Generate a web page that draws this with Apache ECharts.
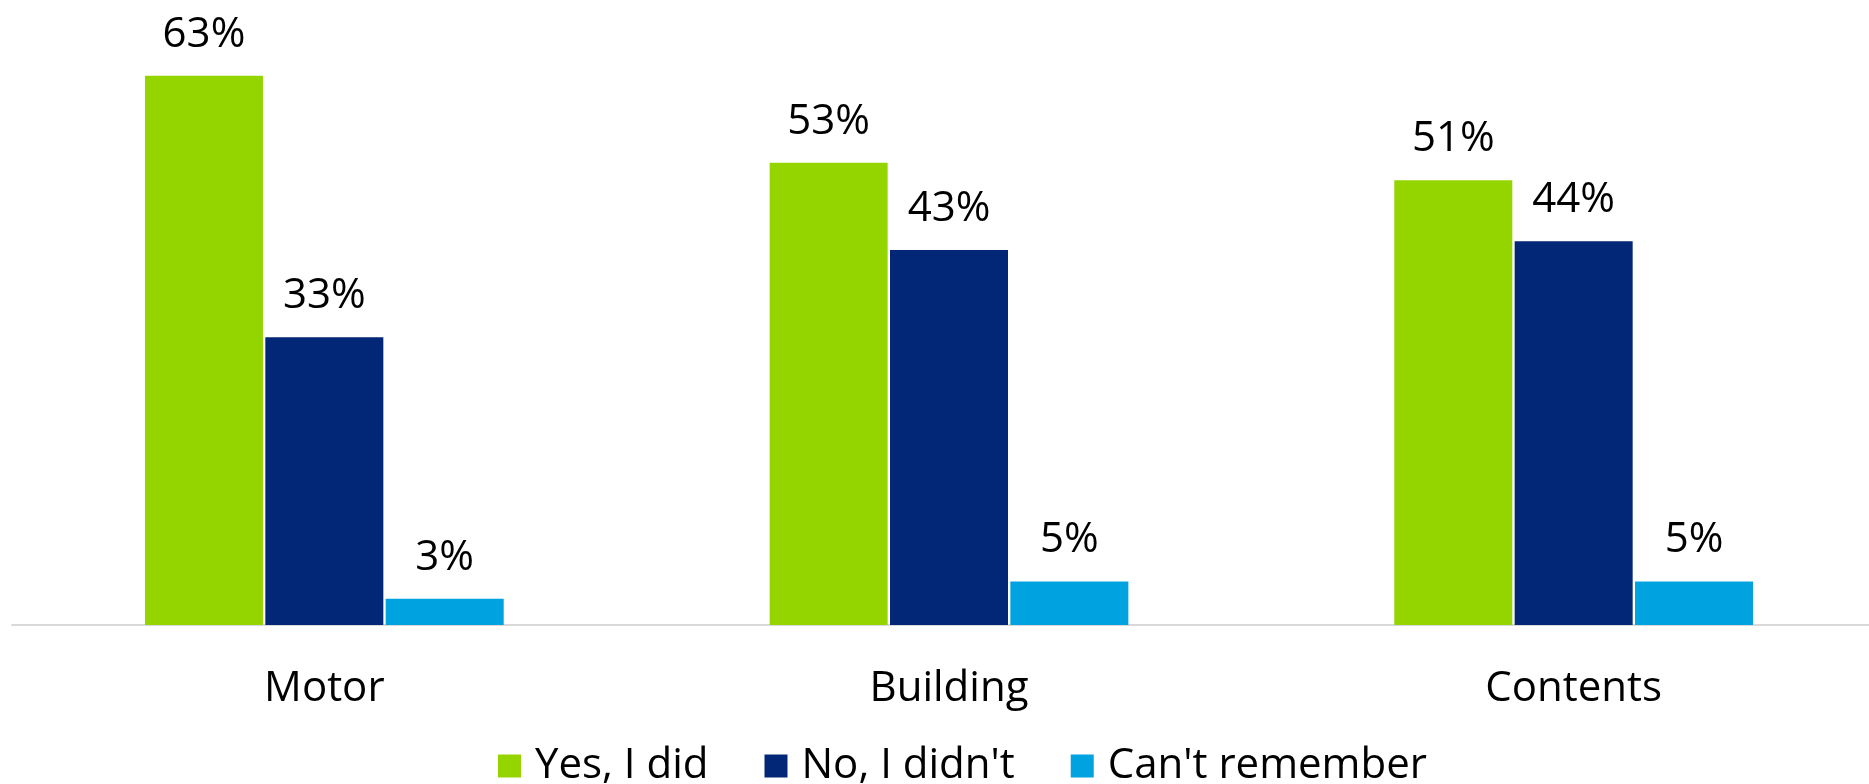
<!DOCTYPE html>
<html>
<head>
<meta charset="utf-8">
<script src="https://cdn.jsdelivr.net/npm/echarts@6/dist/echarts.min.js"></script>
<style>
  html, body { margin: 0; padding: 0; background: #fff; }
  #chart { width: 1869px; height: 784px; }
</style>
</head>
<body>
<div id="chart"></div>
<script>
// Insurance type categories and the answer shares (%)
const categories = ['Motor', 'Building', 'Contents'];
const seriesNames = ['Yes, I did', "No, I didn't", "Can't remember"];
const yesValues = [63, 53, 51];
const noValues = [33, 43, 44];
const cantRememberValues = [3, 5, 5];
const seriesColors = ['#94d500', '#022776', '#00a3e0'];

const FONT = '"Open Sans", "Noto Sans", sans-serif';

function barSeries(name, data, color) {
  return {
    name: name,
    type: 'bar',
    data: data,
    barWidth: 118,
    barGap: '2%',
    itemStyle: { color: color },
    label: {
      show: true,
      position: 'top',
      distance: 20,
      formatter: '{c}%',
      color: '#000',
      fontFamily: FONT,
      fontSize: 42
    }
  };
}

const chart = echarts.init(document.getElementById('chart'), null, { renderer: 'canvas' });
chart.setOption({
  animation: false,
  backgroundColor: '#fff',
  // plot area runs slightly past the right edge of the canvas
  grid: {
    left: 12, width: 1874, top: 14.6, bottom: 159,
    containLabel: false,
    outerBoundsMode: 'none'
  },
  legend: {
    data: seriesNames,
    left: 498,
    top: 745,
    padding: 0,
    icon: 'rect',
    itemWidth: 23,
    itemHeight: 23,
    itemGap: 56,
    textStyle: {
      color: '#000',
      fontFamily: FONT,
      fontSize: 42,
      padding: [0, 0, 0, 9]
    }
  },
  xAxis: {
    type: 'category',
    data: categories,
    axisLine: { show: true, lineStyle: { color: '#d9d9d9', width: 2 } },
    axisTick: { show: false },
    axisLabel: { color: '#000', fontFamily: FONT, fontSize: 42, margin: 43 },
    splitLine: { show: false }
  },
  yAxis: {
    type: 'value',
    min: 0,
    max: 70,
    show: false,
    splitLine: { show: false }
  },
  series: [
    barSeries(seriesNames[0], yesValues, seriesColors[0]),
    barSeries(seriesNames[1], noValues, seriesColors[1]),
    barSeries(seriesNames[2], cantRememberValues, seriesColors[2])
  ]
});
</script>
</body>
</html>
